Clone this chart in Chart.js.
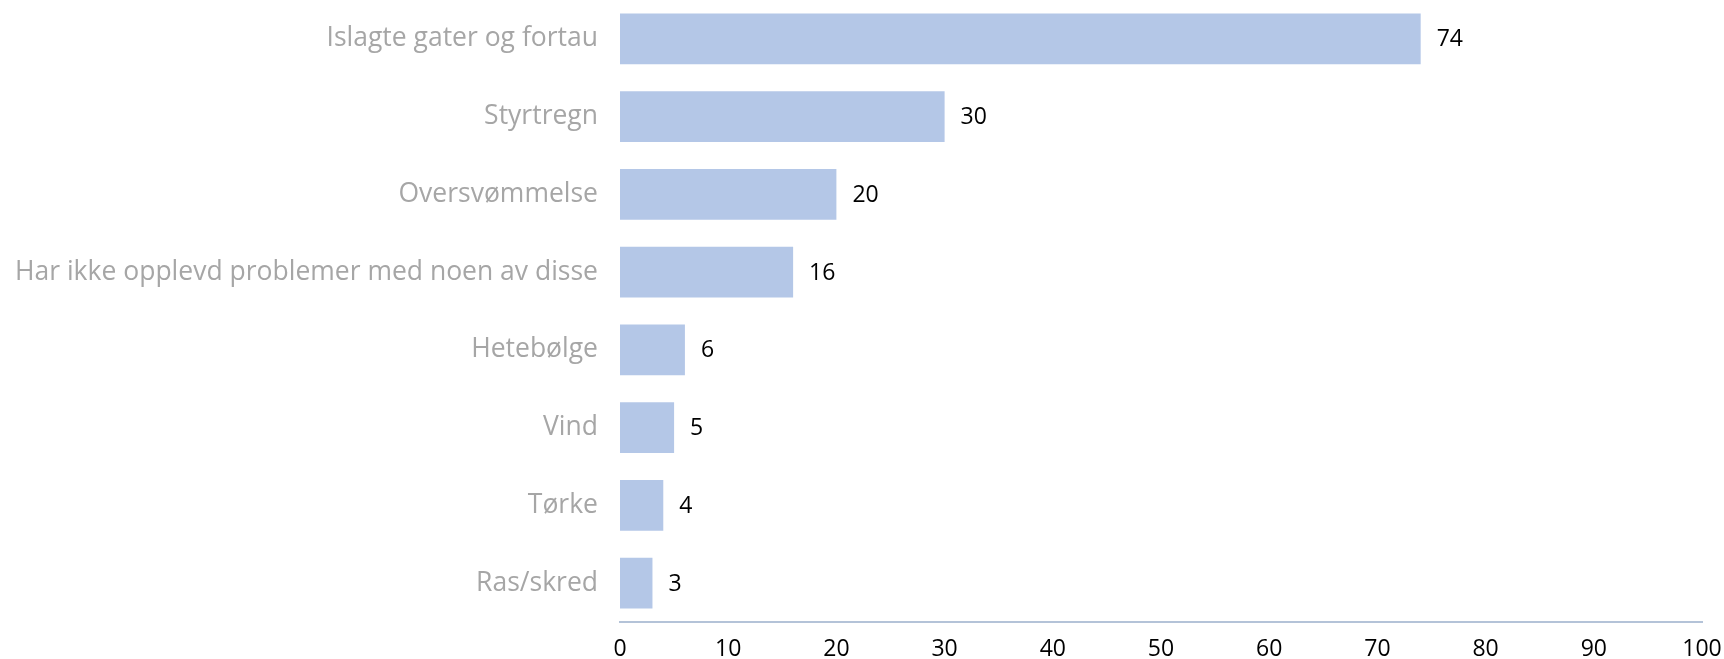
<!DOCTYPE html>
<html>
<head>
<meta charset="utf-8">
<script src="https://cdn.jsdelivr.net/npm/chart.js@4.4.1/dist/chart.umd.min.js"></script>
<style>
  html, body { margin:0; padding:0; background:#fff; }
  #wrap { width:1724px; height:659px; position:relative; }
</style>
</head>
<body>
<div id="wrap"><canvas id="chart"></canvas></div>
<script>
const categories = [
  "Islagte gater og fortau",
  "Styrtregn",
  "Oversvømmelse",
  "Har ikke opplevd problemer med noen av disse",
  "Hetebølge",
  "Vind",
  "Tørke",
  "Ras/skred"
];
const values = [74, 30, 20, 16, 6, 5, 4, 3];
const xTicks = [0, 10, 20, 30, 40, 50, 60, 70, 80, 90, 100];

const FONT = "'Open Sans', 'Noto Sans', sans-serif";

// writes each value just past the end of its bar
const valueLabels = {
  id: "valueLabels",
  afterDatasetsDraw(chart) {
    const ctx = chart.ctx;
    const meta = chart.getDatasetMeta(0);
    ctx.save();
    ctx.font = "23px " + FONT;
    ctx.fillStyle = "#000";
    ctx.textBaseline = "middle";
    ctx.textAlign = "left";
    meta.data.forEach((bar, i) => {
      ctx.fillText(String(values[i]), bar.x + 16, bar.y + 1);
    });
    ctx.restore();
  }
};

new Chart(document.getElementById("chart").getContext("2d"), {
  type: "bar",
  data: {
    labels: categories,
    datasets: [{
      data: values,
      backgroundColor: "#b4c7e7",
      borderWidth: 0,
      categoryPercentage: 1,
      barPercentage: 0.65
    }]
  },
  options: {
    indexAxis: "y",
    responsive: true,
    maintainAspectRatio: false,
    animation: false,
    layout: { padding: { top: 0, right: 22, bottom: 0, left: 0 } },
    plugins: { legend: { display: false }, tooltip: { enabled: false } },
    scales: {
      x: {
        min: 0, max: 100,
        afterBuildTicks(scale) { scale.ticks = xTicks.map(v => ({ value: v })); },
        afterFit(scale) {
          scale.height = 37;
          // let the "100" label run into the right margin
          scale.paddingRight = 0;
          scale.paddingLeft = 0;
        },
        grid: { display: false, drawTicks: false },
        border: { display: true, color: "#b4c3d8", width: 2 },
        ticks: { color: "#000", font: { family: FONT, size: 23 }, padding: 14, maxRotation: 0 }
      },
      y: {
        afterFit(scale) {
          scale.width = 620;
          // bars fill the full height, no room kept for label overhang
          scale.paddingTop = 0;
          scale.paddingBottom = 0;
        },
        grid: { display: false, drawTicks: false },
        border: { display: false },
        ticks: { color: "#a6a6a6", font: { family: FONT, size: 26.5 }, padding: 22 }
      }
    }
  },
  plugins: [valueLabels]
});
</script>
</body>
</html>
